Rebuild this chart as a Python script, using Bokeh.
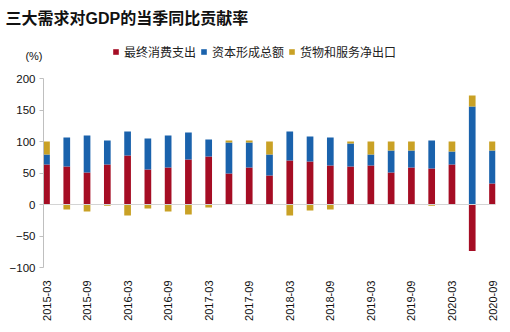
import numpy as np
from bokeh.plotting import figure
from bokeh.layouts import column
from bokeh.models import (ColumnDataSource, Range1d, FixedTicker, Span, Title,
                          Legend, LegendItem)
from bokeh.embed import file_html
from bokeh.resources import INLINE
from math import pi

# ---------------- data ----------------
quarters = ["2015-03", "2015-06", "2015-09", "2015-12",
            "2016-03", "2016-06", "2016-09", "2016-12",
            "2017-03", "2017-06", "2017-09", "2017-12",
            "2018-03", "2018-06", "2018-09", "2018-12",
            "2019-03", "2019-06", "2019-09", "2019-12",
            "2020-03", "2020-06", "2020-09"]
consumption = [63.5, 60.3, 50.8, 63.5, 77.8, 55.6, 58.7, 71.4, 76.2, 49.2, 58.7, 46.0,
               69.8, 68.3, 61.9, 60.3, 61.9, 50.8, 58.7, 57.1, 63.5, -74.0, 33.3]
capital = [16.0, 46.0, 58.7, 38.1, 38.1, 49.2, 50.8, 42.9, 27.0, 49.2, 39.7, 33.4,
           46.1, 39.6, 44.4, 36.5, 17.5, 34.9, 27.0, 44.5, 20.6, 155.6, 52.4]
net_export = [20.5, -7.9, -11.1, -2.0, -17.5, -6.3, -11.1, -15.9, -4.8, 3.2, 3.2, 20.6,
              -17.5, -9.5, -7.9, 3.2, 20.6, 14.3, 14.3, -2.0, 15.9, 17.5, 14.3]
series_names = ["最终消费支出", "资本形成总额", "货物和服务净出口"]
series_vals = [consumption, capital, net_export]
colors = ["#A50D24", "#1A62AC", "#C9A125"]
y_ticks = [-100, -50, 0, 50, 100, 150, 200]
title_text = "三大需求对GDP的当季同比贡献率"
unit_text = "(%)"

# ---------------- layout constants ----------------
FL, FR_B = 43, 15               # left / right borders (px)
FW = 452                        # frame width
HEAD_TOP = 34                   # header top border (title panel)
HEAD_FH = 28                    # header frame height
n = len(quarters)
first_c, last_c = 46, 492
ppu_x = (last_c - first_c) / (n - 1)
x0 = 0 - (first_c - FL) / ppu_x
x1 = (n - 1) + (FL + FW - last_c) / ppu_x

# ---------------- header: title, unit, legend ----------------
head = figure(frame_width=FW, frame_height=HEAD_FH, output_backend="svg",
              toolbar_location=None, x_range=Range1d(0, HEAD_FH and FW), y_range=Range1d(0, HEAD_FH),
              x_axis_location=None, y_axis_location="left",
              min_border_left=FL, min_border_right=FR_B, min_border_top=HEAD_TOP,
              min_border_bottom=0)
head.outline_line_color = None
head.grid.grid_line_color = None
head.border_fill_color = "white"
head.title = Title(text=title_text, align="left", offset=5 - FL, standoff=15,
                   text_font="Liberation Sans, Noto Sans CJK SC", text_font_style="bold",
                   text_font_size="16px", text_color="#111111")

ha = head.yaxis[0]
ha.ticker = FixedTicker(ticks=[7])
ha.major_label_overrides = {7: unit_text}
ha.axis_line_color = None
ha.major_tick_line_color = None
ha.minor_tick_line_color = None
ha.major_tick_out = 0
ha.major_tick_in = 0
ha.major_label_standoff = 1
ha.major_label_text_font = "Liberation Sans"
ha.major_label_text_font_size = "11px"
ha.major_label_text_color = "#111111"

legend_renderers = []
for col in colors:
    r = head.vbar(x="x", bottom="bottom", top="top", width=1,
                  source=ColumnDataSource(dict(x=[np.nan], bottom=[np.nan], top=[np.nan])),
                  fill_color=col, line_color=None)
    legend_renderers.append(r)

legend = Legend(items=[LegendItem(label=nm, renderers=[r])
                       for nm, r in zip(series_names, legend_renderers)],
                orientation="horizontal", location=(112 - FL, 2),
                glyph_width=7, glyph_height=7, label_height=12, label_standoff=5,
                spacing=4, padding=0, margin=0, border_line_color=None,
                background_fill_alpha=0, label_text_font="Noto Sans CJK SC",
                label_text_font_size="12px", label_text_color="#222222")
head.add_layout(legend)

# ---------------- chart ----------------
p = figure(frame_width=FW, frame_height=189, output_backend="svg", toolbar_location=None,
           x_range=Range1d(x0, x1), y_range=Range1d(-100, 200),
           min_border_left=FL, min_border_right=FR_B,
           min_border_top=16, min_border_bottom=65)
p.outline_line_color = None
p.grid.grid_line_color = None
p.background_fill_color = "white"
p.border_fill_color = "white"

# stacking (positives up, negatives down)
xs = list(range(n))
pos = np.zeros(n)
neg = np.zeros(n)
for name, vals, col in zip(series_names, series_vals, colors):
    v = np.array(vals, dtype=float)
    bottom = np.where(v >= 0, pos, neg + v)
    top = np.where(v >= 0, pos + v, neg)
    pos = np.where(v >= 0, pos + v, pos)
    neg = np.where(v < 0, neg + v, neg)
    src = ColumnDataSource(dict(x=xs, bottom=bottom, top=top))
    p.vbar(x="x", bottom="bottom", top="top", width=0.33, source=src,
           fill_color=col, line_color=None)

p.add_layout(Span(location=0, dimension="width", line_color="#D4D4D4", line_width=1.2))

# y axis
ya = p.yaxis[0]
ya.ticker = FixedTicker(ticks=y_ticks)
ya.axis_line_color = "#BFBFBF"
ya.major_tick_line_color = "#BFBFBF"
ya.major_tick_out = 4
ya.major_tick_in = 0
ya.minor_tick_line_color = None
ya.major_label_standoff = 4
ya.major_label_text_font = "Liberation Sans"
ya.major_label_text_font_size = "11.5px"
ya.major_label_text_color = "#111111"

# x axis
xa = p.xaxis[0]
xa.ticker = FixedTicker(ticks=list(range(0, n, 2)))
xa.major_label_overrides = {i: quarters[i] for i in range(0, n, 2)}
xa.major_label_orientation = pi / 2
xa.axis_line_color = None
xa.major_tick_line_color = None
xa.minor_tick_line_color = None
xa.major_label_standoff = 7
xa.major_label_text_font = "Liberation Sans"
xa.major_label_text_font_size = "11px"
xa.major_label_text_color = "#111111"

layout = column(head, p, spacing=0)
open("out.html", "w").write(file_html(layout, INLINE))
